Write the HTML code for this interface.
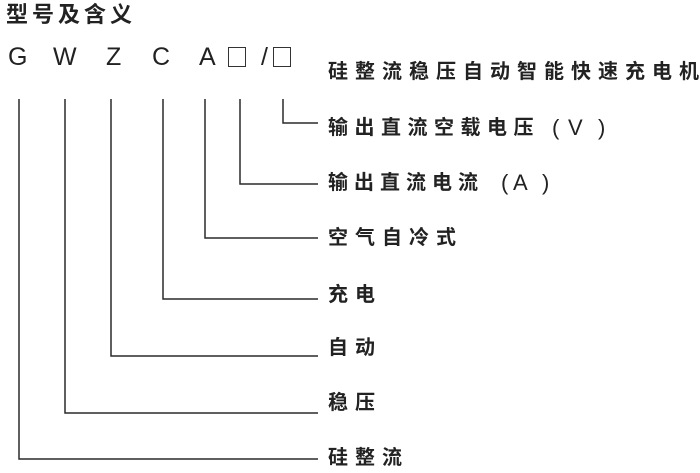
<!DOCTYPE html>
<html><head><meta charset="utf-8"><style>
body{margin:0;width:700px;height:473px;background:#fff;position:relative;overflow:hidden;font-family:"Liberation Sans","Noto Sans CJK SC",sans-serif;color:#222}
.t{position:absolute;white-space:nowrap;line-height:1}
.l{position:absolute;font-size:25px;top:45px;line-height:1}
.c{font-size:20px;letter-spacing:7px;left:328px;font-weight:bold}
.n{letter-spacing:6px}
.p{position:absolute;font-size:22px;line-height:1}
.box{position:absolute;border:1.5px solid #333;top:47px;width:16px;height:18px}
</style></head><body>
<div class="t" style="left:6px;top:4px;font-size:22px;letter-spacing:4px;font-weight:bold">型号及含义</div>
<div class="l" style="left:8px">G</div>
<div class="l" style="left:53px">W</div>
<div class="l" style="left:106px">Z</div>
<div class="l" style="left:152px">C</div>
<div class="l" style="left:199px">A</div>
<div class="box" style="left:228px"></div>
<div class="l" style="left:261px">/</div>
<div class="box" style="left:273px"></div>
<div class="t c" style="top:62px">硅整流稳压自动智能快速充电机</div>
<div class="t c" style="top:118px;letter-spacing:6.5px">输出直流空载电压</div>
<div class="p" style="left:552px;top:117px">(</div>
<div class="p" style="left:568px;top:117px">V</div>
<div class="p" style="left:598px;top:117px">)</div>
<div class="t c n" style="top:173px">输出直流电流</div>
<div class="p" style="left:501px;top:172px">(</div>
<div class="p" style="left:513px;top:172px">A</div>
<div class="p" style="left:542px;top:172px">)</div>
<div class="t c" style="top:228px">空气自冷式</div>
<div class="t c" style="top:285px">充电</div>
<div class="t c" style="top:338px">自动</div>
<div class="t c" style="top:393px">稳压</div>
<div class="t c" style="top:448px">硅整流</div>
<svg width="700" height="473" style="position:absolute;left:0;top:0" fill="none" stroke="#2a2a2a" stroke-width="1.5">
<polyline points="283,99 283,123 318,123"/>
<polyline points="240,99 240,184 318,184"/>
<polyline points="205,99 205,238 318,238"/>
<polyline points="163,99 163,299 318,299"/>
<polyline points="111,99 111,356 318,356"/>
<polyline points="65,99 65,413 318,413"/>
<polyline points="19,99 19,459 318,459"/>
</svg>
</body></html>
